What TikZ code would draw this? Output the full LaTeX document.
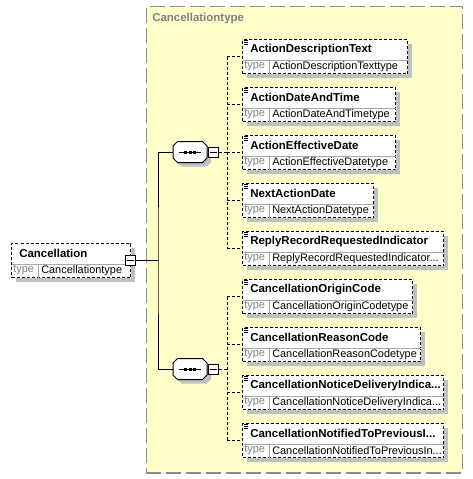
\documentclass[tikz,border=0pt]{standalone}
\usepackage{fontspec}
\setmainfont{Liberation Sans}
\usepackage{xcolor}
\usepackage{tikz}
\usetikzlibrary{shapes,positioning,calc,shadows}
\def\px{0.75pt}
\definecolor{ctfill}{HTML}{FFFFCC}
\definecolor{ctline}{HTML}{8C8C8C}
\definecolor{shade}{HTML}{C0C0C0}
\definecolor{lblgray}{HTML}{808080}
\definecolor{divgray}{HTML}{A8A8A8}
\tikzstyle{container} = [draw=ctline, fill=ctfill, line width=1.2pt, dash pattern=on 11.25pt off 3.75pt, inner sep=0]
\tikzstyle{elem} = [draw, fill=white, line width=0.75pt, dash pattern=on 2.25pt off 1.5pt, minimum height=34*\px, inner sep=0, general shadow={fill=shade, shadow xshift=3pt, shadow yshift=-3pt}]
\tikzstyle{seq} = [rectangle, minimum width=34*\px, minimum height=21*\px, inner sep=0]
\tikzstyle{minus} = [rectangle, draw, fill=white, line width=0.75pt, minimum size=10*\px, inner sep=0]
\tikzstyle{namelbl} = [font=\fontsize{8.6}{10}\selectfont\bfseries, inner sep=0, anchor=west]
\tikzstyle{typelbl} = [font=\fontsize{8.2}{10}\selectfont, inner sep=0, anchor=west]
\tikzstyle{divline} = [draw=divgray, line width=0.75pt]
\tikzstyle{link} = [line width=0.75pt]
\tikzstyle{optlink} = [line width=0.75pt, dash pattern=on 2.25pt off 1.5pt]

% element box: name, x, y (top), width, title, type
\newcommand{\elembox}[6]{%
  \node[elem, minimum width=#4*\px, anchor=north west] (#1) at (#2,#3) {};
  \draw[divline] ([xshift=0.5*\px,yshift=-21*\px]#1.north west) -- ([xshift=-0.5*\px,yshift=-21*\px]#1.north east);
  \draw[divline] ([xshift=27*\px,yshift=-21*\px]#1.north west) -- ([xshift=27*\px,yshift=0.5*\px]#1.south west);
  \node[namelbl] (#1n) at ([xshift=8*\px,yshift=-10.5*\px]#1.north west) {#5};
  \node[typelbl, text=lblgray] (#1t) at ([xshift=2*\px,yshift=-27.5*\px]#1.north west) {type};
  \node[typelbl] (#1v) at ([xshift=30*\px,yshift=-27.5*\px]#1.north west) {#6};
}
% documentation mark in the corner
\newcommand{\docicon}[1]{%
  \foreach \k in {0,1,2}
    \draw[line width=0.6pt] ([xshift=2*\px,yshift={-(1.5+2*\k)*\px}]#1.north west) -- ++(3pt,0pt);
}
% octagon round a sequence node: node, dx, dy, options
\newcommand{\octagon}[4]{%
  \path[#4] ([shift={(-17+#2,-6+#3)}]#1.center) -- ([shift={(-12.5+#2,-10.5+#3)}]#1.center)
    -- ([shift={(12.5+#2,-10.5+#3)}]#1.center) -- ([shift={(17+#2,-6+#3)}]#1.center)
    -- ([shift={(17+#2,6+#3)}]#1.center) -- ([shift={(12.5+#2,10.5+#3)}]#1.center)
    -- ([shift={(-12.5+#2,10.5+#3)}]#1.center) -- ([shift={(-17+#2,6+#3)}]#1.center) -- cycle;
}
\newcommand{\seqshape}[1]{%
  \octagon{#1}{4}{4}{fill=shade}
  \octagon{#1}{0}{0}{draw, fill=white, line width=0.75pt}
  \draw[line width=0.75pt] ([xshift=-11*\px]#1.center) -- ([xshift=11*\px]#1.center);
  \foreach \d in {-4.5,0,4.5}
    \fill ([shift={(\d-1.5,-1.5)}]#1.center) rectangle ([shift={(\d+1.5,1.5)}]#1.center);
}

\begin{document}
\begin{tikzpicture}[x=0.75pt, y=-0.75pt]
    \useasboundingbox (0,0) rectangle (472,479);
    % complex type frame
    \node[container, minimum width=316*\px, minimum height=466.5*\px, anchor=north west] (ctype) at (145.5,5.5) {};
    \node[namelbl, text=lblgray] (ctypen) at (152,19) {Cancellationtype};

    % root element
    \elembox{root}{11}{243}{119}{Cancellation}{Cancellationtype}
    \node[minus] (rootm) at (130,260) {};
    \draw[link] ([xshift=2*\px]rootm.west) -- ([xshift=-2*\px]rootm.east);

    % sequences
    \node[seq] (s1) at (190,152) {};
    \node[seq] (s2) at (190,369) {};
    \seqshape{s1}
    \seqshape{s2}
    \node[minus, right=0.75pt of s1] (s1m) {};
    \node[minus, right=0.75pt of s2] (s2m) {};
    \draw[link] ([xshift=2*\px]s1m.west) -- ([xshift=-2*\px]s1m.east);
    \draw[link] ([xshift=2*\px]s2m.west) -- ([xshift=-2*\px]s2m.east);

    \coordinate (fork) at (158,260);
    \draw[link] (rootm.east) -- (fork);
    \draw[link] (s1.west) -| (fork) |- (s2.west);

    % child elements
    \elembox{e1}{242}{39}{165}{ActionDescriptionText}{ActionDescriptionTexttype}
    \elembox{e2}{242}{87}{153}{ActionDateAndTime}{ActionDateAndTimetype}
    \elembox{e3}{242}{135}{153}{ActionEffectiveDate}{ActionEffectiveDatetype}
    \elembox{e4}{242}{183}{131}{NextActionDate}{NextActionDatetype}
    \elembox{e5}{242}{231}{201}{ReplyRecordRequestedIndicator}{ReplyRecordRequestedIndicator...}
    \elembox{e6}{242}{279}{170}{CancellationOriginCode}{CancellationOriginCodetype}
    \elembox{e7}{242}{327}{178}{CancellationReasonCode}{CancellationReasonCodetype}
    \elembox{e8}{242}{375}{201}{CancellationNoticeDeliveryIndica...}{CancellationNoticeDeliveryIndica...}
    \elembox{e9}{242}{423}{201}{CancellationNotifiedToPreviousI...}{CancellationNotifiedToPreviousIn...}
    \foreach \e in {e1,e2,e3,e4,e5,e6,e7,e8,e9} {\docicon{\e}}

    % sequence links
    \coordinate (v1) at (227,152);
    \coordinate (v2) at (227,369);
    \draw[optlink] (s1m.east) -- (v1);
    \draw[optlink] (s2m.east) -- (v2);
    \draw[optlink] (e1.west -| v1) -- (e5.west -| v1);
    \draw[optlink] (e6.west -| v2) -- (e9.west -| v2);
    \foreach \e in {e1,e2,e3,e4,e5,e6,e7,e8,e9}
        \draw[optlink] (\e.west -| v1) -- (\e.west);
\end{tikzpicture}
\end{document}
